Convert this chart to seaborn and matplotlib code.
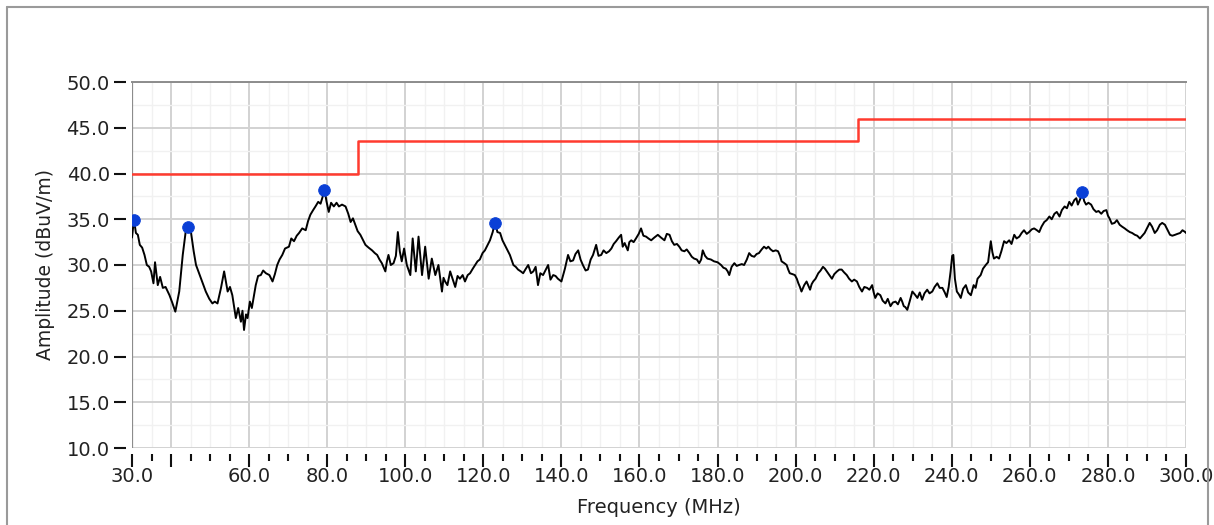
import matplotlib
matplotlib.use("Agg")
import matplotlib.pyplot as plt
import seaborn as sns
import pandas as pd
from matplotlib.ticker import FixedLocator, MultipleLocator, FuncFormatter
from matplotlib.lines import Line2D

freq = [30.0, 30.5, 31.0, 31.5, 32.0, 32.6, 33.2, 33.8, 34.4, 34.9, 35.5, 35.9, 36.6, 37.2, 37.9, 38.6,
        39.6, 40.3, 41.1, 42.1, 43.0, 43.8, 44.3, 45.1, 45.8, 46.4, 47.1, 47.7, 48.3, 48.9, 49.8, 50.6,
        51.2, 51.9, 52.8, 53.6, 54.5, 55.1, 55.7, 56.6, 57.2, 57.9, 58.3, 58.7, 59.2, 59.6, 60.2, 60.7,
        61.7, 62.3, 63.0, 63.6, 64.3, 65.2, 66.0, 66.6, 67.2, 67.8, 68.5, 69.2, 70.2, 70.8, 71.5, 72.2,
        72.8, 73.6, 74.5, 75.1, 75.7, 76.4, 77.0, 77.7, 78.3, 78.8, 79.3, 79.8, 80.4, 81.0, 81.7, 82.4,
        83.0, 83.8, 84.7, 85.4, 86.0, 86.6, 87.2, 87.8, 88.5, 89.1, 89.8, 90.6, 91.5, 92.2, 92.8, 93.4,
        94.0, 94.9, 95.3, 95.7, 96.3, 97.0, 97.6, 98.1, 98.6, 99.1, 99.7, 100.4, 101.3, 101.9, 102.7, 103.4,
        104.3, 105.1, 106.0, 106.8, 107.7, 108.5, 109.4, 109.8, 110.2, 110.8, 111.5, 112.2, 112.8, 113.4, 114.0, 114.7,
        115.3, 116.0, 116.6, 117.3, 117.9, 118.5, 119.1, 119.8, 120.4, 121.1, 121.7, 122.4, 123.0, 123.6, 124.3, 124.9,
        125.5, 126.2, 126.8, 127.3, 127.7, 128.3, 128.9, 129.6, 130.2, 130.9, 131.5, 132.2, 132.8, 133.4, 134.0, 134.6,
        135.3, 136.0, 136.6, 137.2, 137.9, 138.5, 139.1, 140.0, 140.9, 141.7, 142.3, 143.0, 143.6, 144.3, 144.9, 145.5,
        146.2, 146.8, 147.5, 148.1, 148.9, 149.5, 150.2, 150.8, 151.5, 152.2, 152.8, 153.4, 154.0, 154.7, 155.3, 155.7,
        156.2, 157.0, 157.4, 157.9, 158.5, 159.1, 159.8, 160.4, 161.0, 161.7, 162.3, 163.0, 163.8, 164.7, 165.5, 166.4,
        167.0, 167.7, 168.3, 168.9, 169.6, 170.2, 170.8, 171.5, 172.1, 172.8, 173.4, 174.0, 174.7, 175.3, 175.8, 176.2,
        176.8, 177.4, 178.3, 179.1, 180.0, 180.9, 181.5, 182.1, 182.6, 183.0, 183.6, 184.3, 184.9, 185.5, 186.2, 186.8,
        187.5, 188.1, 188.7, 189.4, 190.0, 190.6, 191.3, 191.9, 192.5, 193.0, 193.6, 194.2, 194.9, 195.5, 196.0, 196.4,
        197.1, 197.7, 198.1, 198.5, 199.2, 199.8, 200.3, 200.7, 201.1, 201.5, 202.2, 202.8, 203.2, 203.7, 204.1, 204.5,
        205.1, 205.8, 206.4, 207.0, 207.5, 208.0, 208.7, 209.3, 209.9, 210.6, 211.2, 211.8, 212.4, 213.1, 213.7, 214.4,
        215.0, 215.7, 216.3, 217.0, 217.6, 218.3, 218.9, 219.6, 220.0, 220.4, 221.0, 221.7, 222.3, 223.0, 223.6, 224.3,
        224.9, 225.6, 226.2, 226.9, 227.3, 227.7, 228.1, 228.6, 229.2, 229.9, 230.5, 231.2, 231.8, 232.4, 233.0, 233.7,
        234.3, 235.0, 235.6, 236.3, 236.9, 237.6, 238.2, 238.7, 239.2, 239.7, 240.1, 240.4, 240.8, 241.3, 241.8, 242.3,
        242.9, 243.6, 244.2, 244.9, 245.6, 246.1, 246.6, 247.4, 248.0, 248.7, 249.3, 250.0, 250.4, 250.8, 251.5, 252.1,
        252.7, 253.4, 254.0, 254.7, 255.3, 256.0, 256.6, 257.3, 257.9, 258.5, 259.2, 259.8, 260.5, 261.1, 261.8, 262.4,
        263.0, 263.7, 264.3, 265.0, 265.6, 266.3, 266.9, 267.6, 268.2, 268.9, 269.5, 270.1, 270.7, 271.4, 271.9, 272.3,
        272.9, 273.4, 273.9, 274.4, 275.0, 275.7, 276.3, 277.0, 277.6, 278.3, 278.9, 279.6, 280.0, 280.4, 281.0, 281.7,
        282.3, 283.0, 283.6, 284.3, 284.9, 285.6, 286.2, 286.9, 287.5, 288.2, 288.8, 289.4, 290.1, 290.7, 291.3, 292.0,
        292.6, 293.3, 293.9, 294.6, 295.2, 295.9, 296.5, 297.2, 297.8, 298.5, 299.1, 299.8, 300.0]
amp = [33.0, 35.0, 33.5, 33.3, 32.2, 31.9, 31.1, 30.0, 29.8, 29.3, 28.0, 30.3, 27.8, 28.7, 27.5, 27.6,
       26.7, 25.9, 24.9, 27.1, 31.1, 33.8, 34.2, 33.6, 31.5, 30.0, 29.2, 28.5, 27.8, 27.1, 26.3, 25.8,
       26.0, 25.8, 27.5, 29.3, 27.1, 27.6, 26.7, 24.2, 25.3, 23.8, 25.0, 22.9, 24.6, 24.2, 26.0, 25.3,
       27.8, 28.8, 28.9, 29.4, 29.1, 28.9, 28.2, 29.0, 30.0, 30.6, 31.1, 31.8, 32.0, 32.9, 32.6, 33.2,
       33.5, 34.0, 33.8, 34.8, 35.5, 36.0, 36.4, 36.9, 36.7, 37.4, 38.3, 37.0, 35.8, 36.8, 36.4, 36.8,
       36.4, 36.6, 36.4, 35.6, 34.7, 35.1, 34.4, 33.7, 33.3, 32.8, 32.2, 31.9, 31.6, 31.3, 31.1, 30.6,
       30.2, 29.3, 30.4, 31.1, 30.0, 30.2, 31.0, 33.6, 31.5, 30.4, 31.8, 30.0, 28.9, 32.9, 29.3, 33.1,
       28.9, 32.0, 28.5, 30.7, 28.9, 30.0, 27.1, 28.6, 28.2, 27.8, 29.3, 28.4, 27.6, 28.8, 28.5, 28.9,
       28.2, 28.9, 29.1, 29.6, 30.0, 30.4, 30.6, 31.3, 31.6, 32.2, 32.7, 33.6, 34.7, 33.6, 33.5, 32.7,
       32.2, 31.6, 31.1, 30.5, 30.0, 29.8, 29.5, 29.3, 29.1, 29.6, 30.0, 29.1, 29.3, 29.8, 27.8, 29.1,
       28.9, 29.5, 30.0, 28.4, 28.9, 28.8, 28.5, 28.2, 29.6, 31.1, 30.4, 30.5, 31.2, 31.6, 30.6, 30.0,
       29.4, 29.5, 30.6, 31.1, 32.2, 31.0, 31.1, 31.6, 31.3, 31.5, 31.8, 32.3, 32.6, 33.0, 33.3, 32.0,
       32.4, 31.6, 32.5, 32.7, 32.5, 32.9, 33.4, 34.0, 33.2, 33.1, 32.9, 32.7, 33.0, 33.3, 33.0, 32.7,
       33.4, 33.3, 32.6, 32.2, 32.3, 32.0, 31.6, 31.5, 31.7, 31.3, 30.9, 30.7, 30.6, 30.2, 30.6, 31.6,
       31.0, 30.7, 30.6, 30.4, 30.3, 30.0, 29.7, 29.6, 29.3, 28.9, 29.8, 30.2, 29.9, 30.0, 30.1, 30.0,
       30.6, 31.3, 31.0, 30.9, 31.2, 31.3, 31.7, 32.0, 31.8, 32.0, 31.7, 31.5, 31.6, 31.5, 31.0, 30.4,
       30.2, 30.0, 29.5, 29.1, 29.0, 28.9, 28.5, 28.0, 27.6, 27.1, 27.8, 28.2, 27.8, 27.3, 27.9, 28.2,
       28.5, 29.1, 29.4, 29.8, 29.6, 29.3, 28.9, 28.5, 29.0, 29.3, 29.5, 29.5, 29.2, 28.9, 28.5, 28.2,
       28.4, 28.2, 27.6, 27.1, 27.6, 27.5, 27.3, 27.8, 27.0, 26.4, 26.9, 26.7, 26.1, 25.8, 26.3, 25.5,
       25.9, 26.0, 25.7, 26.4, 26.0, 25.5, 25.4, 25.1, 26.0, 27.1, 26.8, 26.4, 27.0, 26.2, 26.9, 27.3,
       26.9, 27.1, 27.6, 28.0, 27.5, 27.5, 27.0, 26.5, 27.6, 29.3, 31.0, 31.1, 28.5, 27.1, 26.8, 26.4,
       27.4, 27.8, 27.0, 26.7, 27.8, 27.5, 28.5, 28.9, 29.6, 30.0, 30.3, 32.6, 31.4, 30.7, 30.9, 30.7,
       31.5, 32.6, 32.4, 32.7, 32.3, 33.3, 32.9, 33.1, 33.5, 33.8, 33.4, 33.6, 33.9, 34.0, 33.8, 33.6,
       34.2, 34.7, 34.9, 35.3, 35.0, 35.6, 35.8, 35.3, 36.0, 36.4, 36.2, 36.9, 36.5, 37.1, 37.3, 36.6,
       37.2, 38.1, 37.0, 36.6, 36.8, 36.6, 36.1, 35.8, 35.9, 35.6, 35.9, 36.0, 35.4, 35.1, 34.5, 34.6,
       34.9, 34.4, 34.2, 34.0, 33.8, 33.6, 33.5, 33.3, 33.2, 32.9, 33.2, 33.5, 34.1, 34.6, 34.2, 33.5,
       33.8, 34.4, 34.6, 34.4, 33.9, 33.3, 33.2, 33.3, 33.4, 33.5, 33.8, 33.6, 33.5]

# FCC class B limit line
limit_freq = [30.0, 88.0, 216.0, 300.0]
limit_amp = [40.0, 43.5, 46.0, 46.0]

# peak markers
peak_freq = [30.5, 44.3, 79.3, 123.0, 273.4]
peak_amp = [34.9, 34.1, 38.2, 34.6, 38.0]

xticks = [30, 40, 60, 80, 100, 120, 140, 160, 180, 200, 220, 240, 260, 280, 300]

sns.set_style("white")
plt.rcParams['font.family'] = ['DejaVu Sans']

trace = pd.DataFrame({"freq": freq, "amp": amp})
limit = pd.DataFrame({"freq": limit_freq, "amp": limit_amp})
peaks = pd.DataFrame({"freq": peak_freq, "amp": peak_amp})

fig = plt.figure(figsize=(12.14, 5.25), dpi=100)
ax = fig.add_axes([132 / 1214, 1 - 448 / 525, (1186 - 132) / 1214, (448 - 82) / 525])

sns.lineplot(data=limit, x="freq", y="amp", ax=ax, color="#ff3b2f", lw=1.8,
             drawstyle="steps-post", sort=False, estimator=None, zorder=3)
sns.lineplot(data=trace, x="freq", y="amp", ax=ax, color="black", lw=1.4,
             sort=False, estimator=None, zorder=4)
sns.scatterplot(data=peaks, x="freq", y="amp", ax=ax, color="#0a3fd6", s=70,
                edgecolor="#0a3fd6", zorder=5)

ax.set_xlim(30, 300)
ax.set_ylim(10, 50)

ax.xaxis.set_major_locator(FixedLocator(xticks))
ax.xaxis.set_minor_locator(MultipleLocator(5))
ax.xaxis.set_major_formatter(FuncFormatter(lambda v, p: "" if abs(v - 40) < 1e-6 else f"{v:.1f}"))
ax.yaxis.set_major_locator(MultipleLocator(5))
ax.yaxis.set_minor_locator(MultipleLocator(2.5))
ax.yaxis.set_major_formatter(FuncFormatter(lambda v, p: f"{v:.1f}"))

ax.set_axisbelow(True)
ax.grid(which="major", color="#d2d2d2", lw=1.4)
ax.grid(which="minor", color="#f1f1f1", lw=1.0)

for side in ["right", "bottom", "left"]:
    ax.spines[side].set_visible(False)
ax.spines["top"].set_color("#8c8c8c")
ax.spines["top"].set_linewidth(1.4)
ax.spines["bottom"].set_position(("outward", 4))
ax.spines["left"].set_position(("outward", 4))
ax.axvline(30, color="#8c8c8c", lw=1.6, zorder=2)

ax.tick_params(axis="x", which="both", bottom=True, top=False)
ax.tick_params(axis="y", which="both", left=True, right=False)
ax.tick_params(axis="x", which="major", direction="out", length=9, width=1.5,
               color="#111111", labelsize=14, labelcolor="#222222", pad=1)
ax.tick_params(axis="x", which="minor", direction="out", length=5, width=1.5, color="#111111")
ax.tick_params(axis="y", which="major", direction="out", length=9, width=1.5,
               color="#111111", labelsize=14, labelcolor="#222222", pad=3)
ax.tick_params(axis="y", which="minor", length=0)

ax.set_xlabel("Frequency (MHz)", fontsize=14, color="#222222", labelpad=8)
ax.set_ylabel("Amplitude (dBuV/m)", fontsize=13.5, color="#222222", labelpad=8)

# outer panel frame
frame_kw = dict(color="#9a9a9a", lw=1.5, transform=fig.transFigure)
fig.add_artist(Line2D([7 / 1214, 7 / 1214], [0, 1 - 7 / 525], **frame_kw))
fig.add_artist(Line2D([7 / 1214, 1208 / 1214], [1 - 7 / 525, 1 - 7 / 525], **frame_kw))
fig.add_artist(Line2D([1208 / 1214, 1208 / 1214], [0, 1 - 7 / 525], **frame_kw))

fig.savefig("out.png", dpi=100)
